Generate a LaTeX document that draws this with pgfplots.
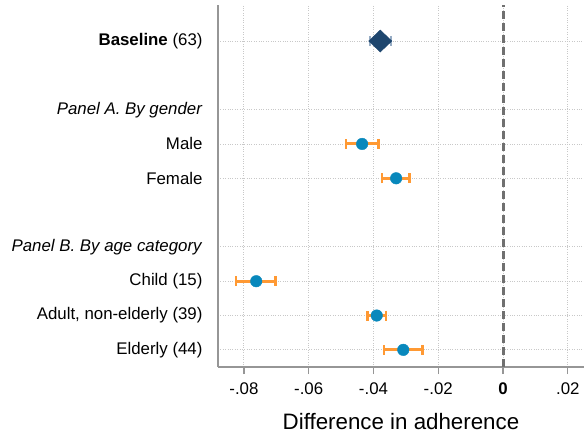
\documentclass[border=0pt]{standalone}
\usepackage{fontspec}
\setmainfont{Liberation Sans}
\usepackage{pgfplots}
\pgfplotsset{compat=1.18}
\definecolor{dotblue}{RGB}{8,136,188}
\definecolor{ciorange}{RGB}{255,153,51}
\definecolor{navy}{RGB}{30,70,110}
\definecolor{navyci}{RGB}{150,172,196}
\definecolor{axisgray}{RGB}{150,150,150}
\definecolor{gridgray}{RGB}{200,200,200}
\definecolor{zerogray}{RGB}{112,112,112}

\begin{document}
\begin{tikzpicture}
\begin{axis}[
  scale only axis, width=366bp, height=362bp,
  xmin=-0.088, xmax=0.025, ymin=0.5, ymax=11.05,
  axis x line*=bottom, axis y line*=left,
  axis line style={color=axisgray, line width=1.5bp, -},
  scaled x ticks=false,
  xtick={-0.08,-0.06,-0.04,-0.02,0,0.02},
  xticklabels={-.08,-.06,-.04,-.02,\textbf{0},.02},
  ytick={1,2,3,4,6,7,8,10},
  yticklabels={Elderly (44),{Adult, non-elderly (39)},Child (15),\textit{Panel B. By age category},Female,Male,\textit{Panel A. By gender},\textbf{Baseline} (63)},
  grid=major, major grid style={dotted, gridgray, line width=0.9bp},
  tick align=outside,
  x tick style={axisgray, line width=1.2bp},
  major tick length=7bp,
  y tick style={draw=none},
  ticklabel style={font=\fontsize{16.9}{20}\selectfont},
  yticklabel style={xshift=-5bp},
  xticklabel style={yshift=-5bp},
  xlabel={Difference in adherence},
  xlabel style={font=\fontsize{22.4}{26}\selectfont, yshift=-12bp},
  clip=false,
]
\addplot[zerogray, line width=3bp, dash pattern=on 8bp off 4bp] coordinates {(0,0.5) (0,11.05)};

\addplot[only marks, mark=diamond*, mark size=11bp, color=navy,
  mark options={solid, xscale=1.4, fill=navy, draw=navy},
  error bars/.cd, x dir=both, x explicit,
  error mark=|,
  error bar style={solid, navyci, line width=3bp},
  error mark options={solid, navyci, line width=2.5bp, mark size=5bp}]
  coordinates {(-0.0379,10) += (0.0033,0) -= (0.0031,0)};

\addplot[only marks, mark=*, mark size=5.8bp, color=dotblue,
  mark options={solid, fill=dotblue, draw=dotblue},
  error bars/.cd, x dir=both, x explicit,
  error mark=|,
  error bar style={solid, ciorange, line width=3bp},
  error mark options={solid, ciorange, line width=2.5bp, mark size=5bp}]
  coordinates {
    (-0.0435,7) += (0.0050,0) -= (0.0050,0)
    (-0.0330,6) += (0.0041,0) -= (0.0043,0)
    (-0.0762,3) += (0.0059,0) -= (0.0063,0)
    (-0.0390,2) += (0.0029,0) -= (0.0028,0)
    (-0.0308,1) += (0.0060,0) -= (0.0060,0)
  };
\end{axis}
\pgfresetboundingbox
\path ([shift={(-218bp,-71bp)}]current axis.south west) rectangle ([shift={(0bp,5bp)}]current axis.north east);
\end{tikzpicture}
\end{document}
